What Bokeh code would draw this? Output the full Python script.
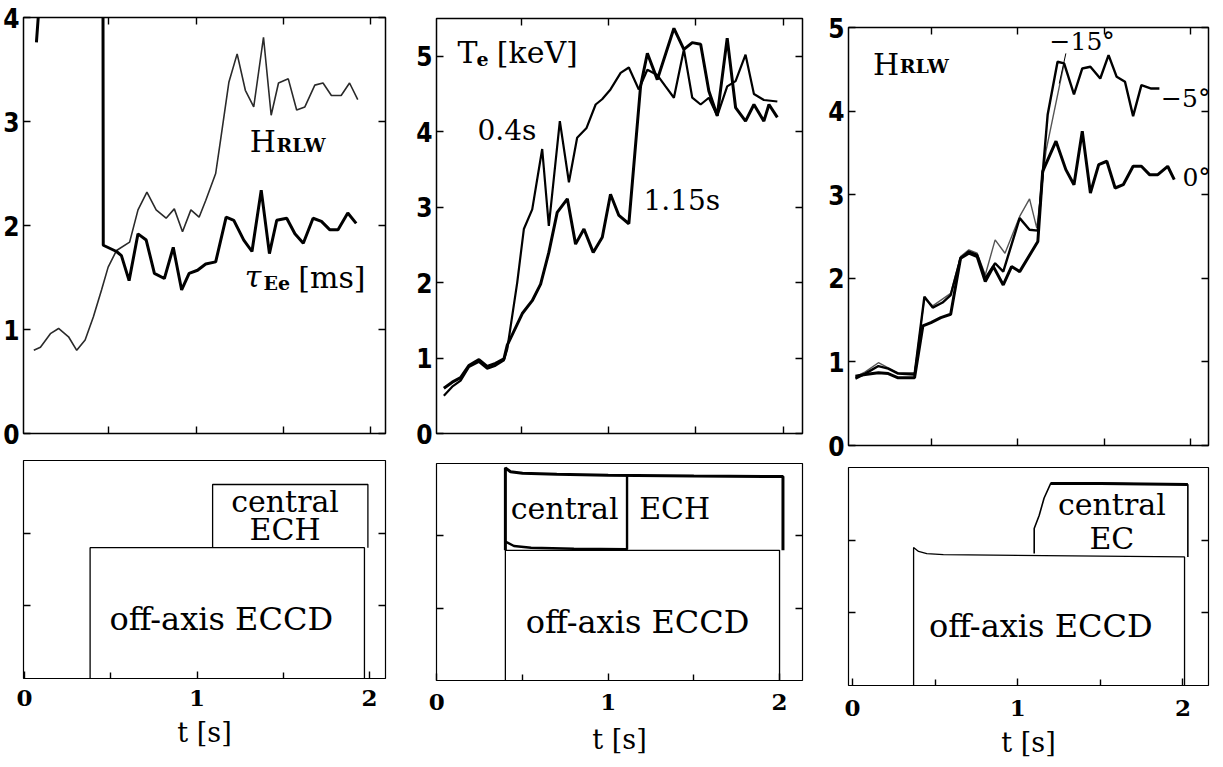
from bokeh.plotting import figure
from bokeh.layouts import row, column
from bokeh.models import Label, LinearAxis, FixedTicker, Range1d
from bokeh.embed import file_html
from bokeh.resources import INLINE

SERIF = "DejaVu Serif"
NARROW = "Liberation Sans Narrow, DejaVu Sans Condensed, Roboto Condensed, Liberation Sans"

# ---------------- data ----------------
# Panel (a): H_RLW and tau_Ee versus time
h_t = [0.07, 0.108, 0.165, 0.212, 0.269, 0.316, 0.364, 0.411, 0.458, 0.496, 0.544, 0.619, 0.667,
       0.718, 0.771, 0.828, 0.875, 0.922, 0.97, 1.017, 1.055, 1.112, 1.14, 1.188, 1.235, 1.282,
       1.33, 1.386, 1.43, 1.472, 1.528, 1.576, 1.623, 1.68, 1.727, 1.775, 1.831, 1.879, 1.926]
h_v = [0.80, 0.83, 0.96, 1.01, 0.93, 0.80, 0.90, 1.12, 1.38, 1.60, 1.76, 1.84, 2.15,
       2.32, 2.15, 2.07, 2.16, 1.94, 2.15, 2.08, 2.24, 2.50, 2.82, 3.38, 3.65, 3.30,
       3.14, 3.81, 3.06, 3.37, 3.41, 3.11, 3.14, 3.35, 3.37, 3.25, 3.25, 3.37, 3.21]
tau_t = [0.085, 0.13, 0.466, 0.468, 0.544, 0.572, 0.616, 0.667, 0.714, 0.761, 0.818, 0.869,
         0.917, 0.960, 1.008, 1.055, 1.112, 1.172, 1.216, 1.273, 1.320, 1.373, 1.420, 1.462,
         1.519, 1.566, 1.614, 1.670, 1.718, 1.765, 1.813, 1.869, 1.917]
tau_v = [3.76, 4.8, 4.8, 1.81, 1.75, 1.71, 1.47, 1.92, 1.86, 1.54, 1.49, 1.79,
         1.38, 1.54, 1.57, 1.63, 1.65, 2.08, 2.05, 1.86, 1.75, 2.34, 1.73, 2.05,
         2.07, 1.92, 1.83, 2.07, 2.04, 1.96, 1.96, 2.12, 2.02]

# Panel (b): Te [keV], central ECH switched on at 0.4 s and at 1.15 s
te04_t = [0.057, 0.105, 0.153, 0.200, 0.258, 0.305, 0.353, 0.401, 0.420, 0.477, 0.515, 0.563,
          0.620, 0.658, 0.721, 0.773, 0.820, 0.874, 0.926, 0.963, 1.011, 1.069, 1.116, 1.173,
          1.222, 1.279, 1.326, 1.374, 1.431, 1.479, 1.527, 1.574, 1.622, 1.679, 1.727, 1.784,
          1.832, 1.889, 1.966]
te04_v = [0.50, 0.62, 0.70, 0.88, 0.95, 0.86, 0.90, 0.97, 1.12, 2.00, 2.71, 2.97,
          3.77, 2.75, 4.14, 3.33, 3.92, 4.05, 4.36, 4.43, 4.56, 4.78, 4.85, 4.56,
          4.82, 4.75, 4.60, 4.45, 5.09, 4.45, 4.36, 4.45, 4.21, 4.60, 4.67, 5.02,
          4.50, 4.42, 4.40]
te115_t = [0.057, 0.105, 0.153, 0.200, 0.258, 0.305, 0.353, 0.401, 0.420, 0.506, 0.563, 0.611,
           0.658, 0.706, 0.764, 0.811, 0.859, 0.912, 0.964, 1.011, 1.059, 1.116, 1.183, 1.222,
           1.279, 1.374, 1.431, 1.479, 1.527, 1.574, 1.622, 1.679, 1.727, 1.784, 1.832, 1.889,
           1.918, 1.966]
te115_v = [0.60, 0.68, 0.74, 0.90, 0.98, 0.89, 0.93, 0.99, 1.17, 1.59, 1.76, 1.98,
           2.40, 2.93, 3.11, 2.51, 2.71, 2.40, 2.60, 3.17, 2.89, 2.78, 4.60, 5.04,
           4.69, 5.37, 5.09, 5.18, 5.16, 4.54, 4.21, 5.24, 4.32, 4.14, 4.36, 4.14,
           4.36, 4.19]

# Panel (c): H_RLW for launch angles 0, -5, -15 degrees
h0_t = [0.061, 0.118, 0.194, 0.251, 0.308, 0.403, 0.451, 0.498, 0.555, 0.612, 0.669, 0.717,
        0.765, 0.812, 0.859, 0.916, 0.964, 1.011, 1.116, 1.144, 1.221, 1.278, 1.325, 1.373,
        1.420, 1.468, 1.515, 1.563, 1.610, 1.667, 1.715, 1.762, 1.810, 1.867, 1.905]
h0_v = [0.83, 0.85, 0.87, 0.86, 0.81, 0.81, 1.43, 1.47, 1.53, 1.57, 2.24, 2.30,
        2.26, 1.96, 2.14, 1.92, 2.14, 2.08, 2.44, 3.28, 3.64, 3.30, 3.12, 3.76,
        3.02, 3.36, 3.40, 3.08, 3.12, 3.34, 3.34, 3.24, 3.24, 3.34, 3.18]
h5_t = [0.061, 0.118, 0.194, 0.251, 0.308, 0.403, 0.460, 0.508, 0.565, 0.612, 0.669, 0.717,
        0.765, 0.812, 0.869, 0.916, 1.011, 1.068, 1.116, 1.173, 1.230, 1.268, 1.325, 1.373,
        1.420, 1.477, 1.525, 1.572, 1.620, 1.667, 1.715, 1.772, 1.819]
h5_v = [0.80, 0.86, 0.95, 0.92, 0.86, 0.85, 1.78, 1.65, 1.71, 1.80, 2.24, 2.32,
        2.28, 2.00, 2.18, 2.08, 2.72, 2.58, 2.57, 3.96, 4.59, 4.57, 4.20, 4.51,
        4.53, 4.39, 4.67, 4.41, 4.35, 3.94, 4.31, 4.27, 4.27]
h15_t = [0.061, 0.118, 0.194, 0.251, 0.308, 0.403, 0.460, 0.508, 0.612, 0.669, 0.717, 0.765,
         0.812, 0.869, 0.926, 1.011, 1.068, 1.110, 1.163, 1.268]
h15_v = [0.82, 0.88, 0.99, 0.93, 0.87, 0.87, 1.76, 1.67, 1.82, 2.26, 2.34, 2.30,
         2.04, 2.46, 2.30, 2.74, 2.95, 2.60, 3.52, 4.57]
lead15_t = [1.278, 1.240]
lead15_v = [4.69, 4.33]

# ECRH power waveforms (arbitrary units)
eccd_a_t = [0.38, 0.38, 1.97, 1.97]
eccd_a_p = [0.0, 0.60, 0.60, 0.0]
ech_a_t = [1.09, 1.09, 1.99, 1.99]
ech_a_p = [0.60, 0.89, 0.89, 0.60]

eccd_b_t = [0.40, 0.40, 2.00, 2.00]
eccd_b_p = [0.0, 0.60, 0.60, 0.0]
ech_b_top_t = [0.40, 0.40, 0.43, 0.50, 0.70, 1.00, 1.50, 2.02, 2.02]
ech_b_top_p = [0.60, 0.98, 0.962, 0.955, 0.95, 0.946, 0.942, 0.94, 0.60]
ech_b_low_t = [0.40, 0.45, 0.55, 0.80, 1.11, 1.11]
ech_b_low_p = [0.64, 0.62, 0.612, 0.607, 0.605, 0.945]

eccd_c_t = [0.37, 0.37, 0.40, 0.45, 0.55, 2.01, 2.01]
eccd_c_p = [0.0, 0.633, 0.615, 0.605, 0.60, 0.59, 0.0]
ec_c_t = [1.10, 1.10, 1.13, 1.16, 1.20, 1.50, 2.03, 2.03]
ec_c_p = [0.605, 0.72, 0.78, 0.86, 0.927, 0.927, 0.922, 0.59]

yt_a = [0, 1, 2, 3, 4]
yt_b = [0, 1, 2, 3, 4, 5]
yt_c = [0, 1, 2, 3, 4, 5]
xt_top = [0.5, 1.0, 1.5, 2.0]
xt_bot = [0, 1, 2]
xt_bot_minor = [0.5, 1.5]
yt_bot = [0.333, 0.667]


# ---------------- helpers ----------------
def make_fig(w, h, xr, yr, l, r, t, b):
    p = figure(width=w, height=h, x_range=Range1d(*xr), y_range=Range1d(*yr),
               title=None, output_backend="svg", toolbar_location=None,
               min_border_left=l, min_border_right=r, min_border_top=t, min_border_bottom=b)
    p.grid.visible = False
    p.outline_line_color = "black"
    p.outline_line_width = 1.5
    p.background_fill_color = "white"
    p.border_fill_color = "white"
    return p


def base_axis(ax):
    ax.axis_line_color = None
    ax.major_tick_in = 7
    ax.major_tick_out = 0
    ax.minor_tick_in = 6
    ax.minor_tick_out = 0
    ax.major_tick_line_color = "black"
    ax.minor_tick_line_color = "black"
    ax.major_tick_line_width = 1.4
    ax.minor_tick_line_width = 1.4


def tick_only(ax, ticks):
    # inward tick marks with no labels (ticks given as minor ticks only)
    ax.ticker = FixedTicker(ticks=[], minor_ticks=ticks)
    base_axis(ax)
    ax.minor_tick_in = 7


def top_axes(p, yt):
    tick_only(p.xaxis[0], xt_top)
    ya = p.yaxis[0]
    ya.ticker = FixedTicker(ticks=yt)
    base_axis(ya)
    ya.major_label_text_font = NARROW
    ya.major_label_text_font_style = "bold"
    ya.major_label_text_font_size = "26px"
    ya.major_label_text_color = "black"
    ya.major_label_standoff = 4
    ra = LinearAxis()
    tick_only(ra, yt)
    p.add_layout(ra, "right")
    ta = LinearAxis()
    tick_only(ta, xt_top)
    p.add_layout(ta, "above")


def bottom_axes(p, label_standoff, title_standoff):
    xa = p.xaxis[0]
    xa.ticker = FixedTicker(ticks=xt_bot, minor_ticks=xt_bot_minor)
    base_axis(xa)
    xa.major_label_text_font = SERIF
    xa.major_label_text_font_style = "bold"
    xa.major_label_text_font_size = "23px"
    xa.major_label_text_color = "black"
    xa.major_label_standoff = label_standoff
    xa.axis_label = "t [s]"
    xa.axis_label_text_font = SERIF
    xa.axis_label_text_font_style = "normal"
    xa.axis_label_text_font_size = "27px"
    xa.axis_label_text_color = "black"
    xa.axis_label_standoff = title_standoff
    tick_only(p.yaxis[0], yt_bot)
    ra = LinearAxis()
    tick_only(ra, yt_bot)
    p.add_layout(ra, "right")


def lab(p, x, y, text, size="30px", style="normal", align="left"):
    p.add_layout(Label(x=x, y=y, text=text, text_font=SERIF, text_font_size=size,
                       text_font_style=style, text_color="black", y_offset=9,
                       text_baseline="alphabetic", text_align=align))


# ---------------- column 1 ----------------
pa = make_fig(410, 452, (0.011, 2.085), (0, 4), 20, 25, 17, 19)
top_axes(pa, yt_a)
pa.line(h_t, h_v, line_color="#2a2a2a", line_width=1.6)
pa.line(tau_t, tau_v, line_color="black", line_width=3)
lab(pa, 1.307, 2.72, "H")
lab(pa, 1.46, 2.69, "RLW", size="19px", style="bold")
lab(pa, 1.278, 1.42, "τ", style="italic")
lab(pa, 1.386, 1.36, "Ee", size="19px", style="bold")
lab(pa, 1.585, 1.41, "[ms]")

qa = make_fig(410, 315, (-0.006, 2.092), (0, 1), 20, 25, 8, 89)
bottom_axes(qa, 11, 8)
qa.outline_line_width = 1.2
qa.line(eccd_a_t, eccd_a_p, line_color="black", line_width=1.3)
qa.line(ech_a_t, ech_a_p, line_color="black", line_width=1.3)
lab(qa, 1.51, 0.77, "central", align="center")
lab(qa, 1.51, 0.64, "ECH", align="center")
lab(qa, 1.14, 0.23, "off-axis ECCD", size="32px", align="center")

# ---------------- column 2 ----------------
pb = make_fig(415, 452, (0.015, 2.11), (0, 5.5), 26, 23, 18, 19)
top_axes(pb, yt_b)
pb.line(te04_t, te04_v, line_color="black", line_width=2.2)
pb.line(te115_t, te115_v, line_color="black", line_width=3)
lab(pb, 0.135, 4.93, "T")
lab(pb, 0.244, 4.85, "e", size="19px", style="bold")
lab(pb, 0.36, 4.93, "[keV]")
lab(pb, 0.25, 3.90, "0.4s", size="28px")
lab(pb, 1.20, 2.97, "1.15s", size="28px")

qb = make_fig(415, 315, (-0.002, 2.134), (0, 1), 26, 23, 11, 87)
bottom_axes(qb, 13, 11)
qb.outline_line_width = 1.2
qb.line(eccd_b_t, eccd_b_p, line_color="black", line_width=1.3)
qb.line(ech_b_top_t, ech_b_top_p, line_color="black", line_width=3)
qb.line(ech_b_low_t, ech_b_low_p, line_color="black", line_width=2.4)
lab(qb, 0.746, 0.75, "central", align="center")
lab(qb, 1.388, 0.75, "ECH", align="center")
lab(qb, 1.172, 0.23, "off-axis ECCD", size="32px", align="center")

# ---------------- column 3 ----------------
pc = make_fig(398, 460, (0.021, 2.103), (0, 5), 18, 15, 27, 15)
top_axes(pc, yt_c)
pc.line(h15_t, h15_v, line_color="#555555", line_width=1.4)
pc.line(h5_t, h5_v, line_color="black", line_width=2.4)
pc.line(h0_t, h0_v, line_color="black", line_width=3)
pc.line(lead15_t, lead15_v, line_color="black", line_width=1)
lab(pc, 0.163, 4.45, "H")
lab(pc, 0.317, 4.43, "RLW", size="19px", style="bold")
lab(pc, 1.184, 4.73, "−15°", size="25px")
lab(pc, 1.829, 4.04, "−5°", size="25px")
lab(pc, 1.952, 3.10, "0°", size="25px")

qc = make_fig(398, 307, (-0.024, 2.155), (0, 1), 18, 15, 7, 82)
bottom_axes(qc, 14, 8)
qc.outline_line_width = 1.2
qc.line(eccd_c_t, eccd_c_p, line_color="black", line_width=1.3)
qc.line(ec_c_t, ec_c_p, line_color="black", line_width=1.6)
qc.line(ec_c_t[4:7], ec_c_p[4:7], line_color="black", line_width=3)
lab(qc, 1.57, 0.79, "central", align="center")
lab(qc, 1.57, 0.633, "EC", align="center")
lab(qc, 1.14, 0.23, "off-axis ECCD", size="32px", align="center")

layout = row(column(pa, qa, spacing=0), column(pb, qb, spacing=0), column(pc, qc, spacing=0),
             spacing=0)

open("out.html", "w").write(file_html(layout, INLINE))
